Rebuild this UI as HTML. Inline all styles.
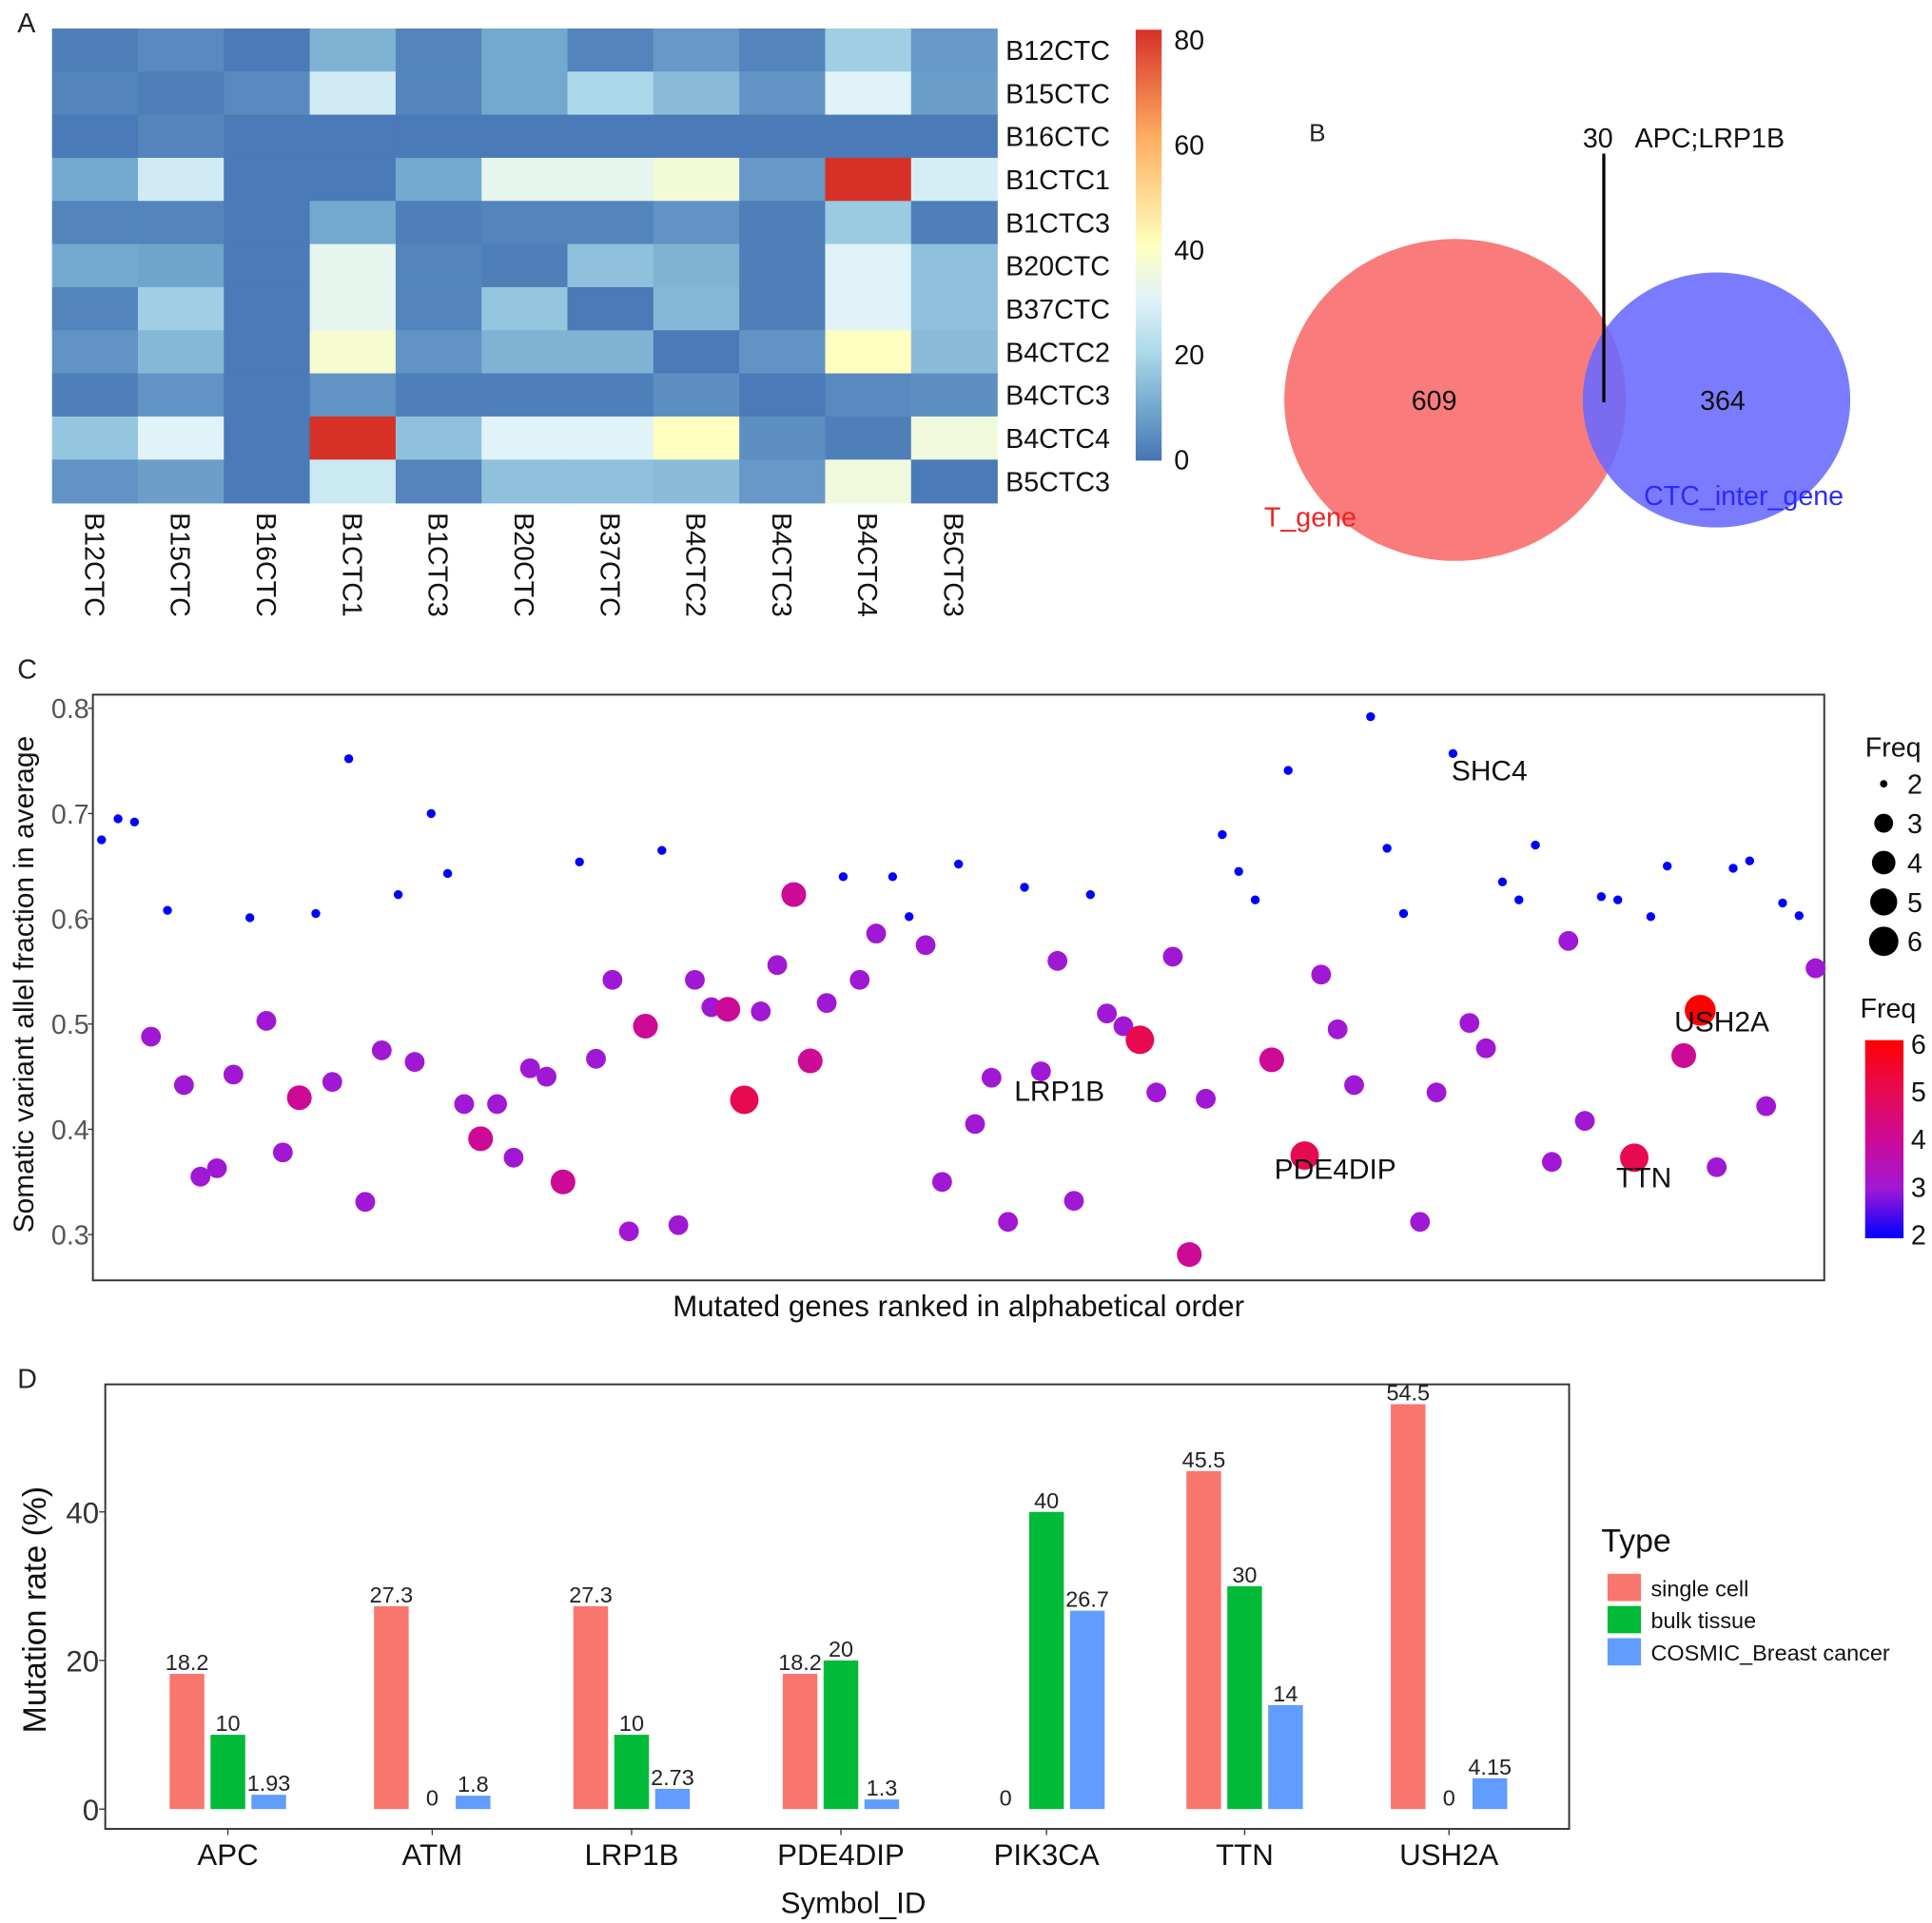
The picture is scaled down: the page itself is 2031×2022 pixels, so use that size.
<!DOCTYPE html>
<html><head><meta charset="utf-8">
<style>
html,body{margin:0;padding:0;background:#fff;}
svg{display:block;font-family:"Liberation Sans",sans-serif;}
</style></head>
<body>
<svg id="fig" width="2031" height="2022" viewBox="0 0 1560 1553" preserveAspectRatio="none" xmlns="http://www.w3.org/2000/svg">
<rect x="0" y="0" width="1560" height="1553" fill="#fff"/>
<g id="pA"></g>
<g id="pB"></g>
<g id="pC"></g>
<g id="pD"></g>
</svg>
<script>
const NS="http://www.w3.org/2000/svg";
// ---------- Data ----------
const hmLabels=["B12CTC","B15CTC","B16CTC","B1CTC1","B1CTC3","B20CTC","B37CTC","B4CTC2","B4CTC3","B4CTC4","B5CTC3"];
const hmRow0=[2,4,1,12,3,10,3,7,3,18,7];
const hmRow1=[3,2,4,27,3,10,20,14,6,30,8];
const hmRow2=[1,3,1,1,1,1,1,1,1,1,1];
const hmRow3=[10,27,1,1,10,32,32,36,7,80,28];
const hmRow4=[3,3,1,10,2,3,3,6,2,17,2];
const hmRow5=[10,9,1,32,3,2,15,12,2,30,15];
const hmRow6=[3,18,1,32,3,16,1,13,2,30,15];
const hmRow7=[6,13,1,37,6,12,12,1,6,40,14];
const hmRow8=[2,6,1,6,2,2,2,5,1,4,5];
const hmRow9=[16,30,1,80,15,30,30,40,5,2,35];
const hmRow10=[6,8,1,26,3,15,15,14,7,35,1];
const hmTicks=[0,20,40,60,80];

const vennLeft=609, vennRight=364, vennBoth=30;

const vaf=[0.675,0.695,0.692,0.488,0.608,0.442,0.355,0.363,0.452,0.601,0.503,0.378,0.430,0.605,0.445,0.752,0.331,0.475,0.623,0.464,0.700,0.643,0.424,0.391,0.424,0.373,0.458,0.450,0.350,0.654,0.467,0.542,0.303,0.498,0.665,0.309,0.542,0.516,0.514,0.428,0.512,0.556,0.623,0.465,0.520,0.640,0.542,0.586,0.640,0.602,0.575,0.350,0.652,0.405,0.449,0.312,0.630,0.455,0.560,0.332,0.623,0.510,0.498,0.485,0.435,0.564,0.281,0.429,0.680,0.645,0.618,0.466,0.741,0.375,0.547,0.495,0.442,0.792,0.667,0.605,0.312,0.435,0.757,0.501,0.477,0.635,0.618,0.670,0.369,0.579,0.408,0.621,0.618,0.373,0.602,0.650,0.470,0.513,0.364,0.648,0.655,0.422,0.615,0.603,0.553];
const freq=[2,2,2,3,2,3,3,3,3,2,3,3,4,2,3,2,3,3,2,3,2,2,3,4,3,3,3,3,4,2,3,3,3,4,2,3,3,3,4,5,3,3,4,4,3,2,3,3,2,2,3,3,2,3,3,3,2,3,3,3,2,3,3,5,3,3,4,3,2,2,2,4,2,5,3,3,3,2,2,2,3,3,2,3,3,2,2,2,3,3,3,2,2,5,2,2,4,6,3,2,2,3,2,2,3];
const scLabelGenes=["SHC4","USH2A","LRP1B","PDE4DIP","TTN"];
const scYTicks=[0.3,0.4,0.5,0.6,0.7,0.8];
const freqLevels=[2,3,4,5,6];

const barCats=["APC","ATM","LRP1B","PDE4DIP","PIK3CA","TTN","USH2A"];
const singleCell=[18.2,27.3,27.3,18.2,0,45.5,54.5];
const bulkTissue=[10,0,10,20,40,30,0];
const cosmic=[1.93,1.8,2.73,1.3,26.7,14,4.15];
const barTypes=["single cell","bulk tissue","COSMIC_Breast cancer"];
const barYTicks=[0,20,40];

// ---------- helpers ----------
function mk(parent,tag,attrs,text){const e=document.createElementNS(NS,tag);for(const k in attrs)e.setAttribute(k,attrs[k]);if(text!==undefined)e.textContent=text;parent.appendChild(e);return e;}
function lerpC(a,b,t){return [a[0]+(b[0]-a[0])*t,a[1]+(b[1]-a[1])*t,a[2]+(b[2]-a[2])*t];}
function rgb(c){return "rgb("+c.map(v=>Math.round(v)).join(",")+")";}
const hmStops=[[0,[69,117,180]],[10,[116,169,207]],[20,[171,217,233]],[30,[224,243,248]],[40,[255,255,191]],[60,[253,174,97]],[80,[215,48,39]]];
function hmColor(v){for(let i=0;i<hmStops.length-1;i++){const a=hmStops[i],b=hmStops[i+1];if(v<=b[0])return rgb(lerpC(a[1],b[1],Math.max(0,(v-a[0])/(b[0]-a[0]))));}return rgb(hmStops[hmStops.length-1][1]);}

// ---------- Panel A ----------
(function(){
const g=document.getElementById("pA");
const rows=[hmRow0,hmRow1,hmRow2,hmRow3,hmRow4,hmRow5,hmRow6,hmRow7,hmRow8,hmRow9,hmRow10];
const x0=42,y0=23,cw=(805-42)/11,ch=(406-23)/11;
let t=mk(g,"text",{x:14,y:26,"font-size":22,fill:"#222"},"A");


rows.forEach((row,r)=>row.forEach((v,c)=>{
 const e=mk(g,"rect",{x:x0+c*cw,y:y0+r*ch,width:cw+0.6,height:ch+0.6,fill:hmColor(v)});
 
 
}));
hmLabels.forEach((l,i)=>{
 const e=mk(g,"text",{x:812,y:y0+i*ch+ch/2+8,"font-size":22,fill:"#111"},l);
 
 
 const cx=x0+i*cw+cw/2;
 const e2=mk(g,"text",{x:0,y:0,"font-size":22,fill:"#111",transform:"translate("+(cx-8)+",414) rotate(90)"},l);
 
 
});
const defs=mk(g,"defs",{});
const lg=mk(defs,"linearGradient",{id:"hmg",x1:0,y1:1,x2:0,y2:0});
hmStops.forEach(s=>mk(lg,"stop",{offset:(s[0]/80),"stop-color":rgb(s[1])}));
const cbTop=24,cbBot=372;
const cb=mk(g,"rect",{x:917,y:cbTop,width:21,height:cbBot-cbTop,fill:"url(#hmg)"});


hmTicks.forEach(v=>{
 const y=371-(v/80)*(371-32);
 const e=mk(g,"text",{x:948,y:y+8,"font-size":22,fill:"#111"},String(v));
 
 
});
})();

// ---------- Panel B ----------
(function(){
const g=document.getElementById("pB");
let e=mk(g,"text",{x:1057,y:114,"font-size":20,fill:"#222"},"B");


e=mk(g,"ellipse",{cx:1175,cy:323,rx:138,ry:130,fill:"#f97b7b"});


e=mk(g,"ellipse",{cx:1386,cy:323,rx:108,ry:103,fill:"rgba(105,105,255,0.88)"});


e=mk(g,"line",{x1:1295,y1:124,x2:1295,y2:325,stroke:"#000","stroke-width":2.5});


e=mk(g,"text",{x:1278,y:119,"font-size":22,fill:"#111"},String(vennBoth));


e=mk(g,"text",{x:1320,y:119,"font-size":22,fill:"#111"},"APC;LRP1B");


e=mk(g,"text",{x:1158,y:331,"font-size":22,fill:"#111","text-anchor":"middle"},String(vennLeft));


e=mk(g,"text",{x:1391,y:331,"font-size":22,fill:"#111","text-anchor":"middle"},String(vennRight));


e=mk(g,"text",{x:1058,y:425,"font-size":22,fill:"#ee2222","text-anchor":"middle"},"T_gene");


e=mk(g,"text",{x:1408,y:408,"font-size":22,fill:"#2a2aff","text-anchor":"middle"},"CTC_inter_gene");


})();

// ---------- Panel C ----------
const fStops=[[0,0,255],[160,24,212],[205,10,150],[232,10,80],[255,0,0]];
function fColor(f){const i=Math.max(0,Math.min(4,f-2));const lo=Math.floor(i),hi=Math.min(4,lo+1);return rgb(lerpC(fStops[lo],fStops[hi],i-lo));}
function fRad(f){return [0,0,3.6,8,10,11.5,12.5][f];}
(function(){
const g=document.getElementById("pC");
const L=75,R=1473,T=561,B=1034;
const xS=i=>82+i*(1466-82)/104;
const yS=v=>997-(v-0.3)*850;
let e=mk(g,"text",{x:14,y:548,"font-size":22,fill:"#222"},"C");


e=mk(g,"rect",{x:L,y:T,width:R-L,height:B-T,fill:"none",stroke:"#333","stroke-width":1.5});


scYTicks.forEach(v=>{
 const y=yS(v);
 const t=mk(g,"text",{x:72,y:y+8,"font-size":22,fill:"#555","text-anchor":"end"},v.toFixed(1));
 
 
 const l=mk(g,"line",{x1:71,x2:L,y1:y,y2:y,stroke:"#333","stroke-width":1});
 
 
});
vaf.forEach((v,i)=>{
 const c=mk(g,"circle",{cx:xS(i),cy:yS(v),r:fRad(freq[i]),fill:fColor(freq[i])});
 
 
});
const labs=[["SHC4",1172,630],["USH2A",1352,833],["LRP1B",819,889],["PDE4DIP",1029,952],["TTN",1305,959]];
labs.forEach(a=>{
 const t=mk(g,"text",{x:a[1],y:a[2],"font-size":23,fill:"#111"},a[0]);
 
 
});
e=mk(g,"text",{x:0,y:0,"font-size":23,fill:"#111","text-anchor":"middle",transform:"translate(27,795) rotate(-90)"},"Somatic variant allel fraction in average");


e=mk(g,"text",{x:774,y:1063,"font-size":24,fill:"#111","text-anchor":"middle"},"Mutated genes ranked in alphabetical order");


e=mk(g,"text",{x:1506,y:611,"font-size":22,fill:"#111"},"Freq");


freqLevels.forEach((f,i)=>{
 const y=633+i*31.8;
 const c=mk(g,"circle",{cx:1521,cy:y,r:fRad(f)==3.6?3:fRad(f)*0.95,fill:"#000"});
 
 
 const t=mk(g,"text",{x:1540,y:y+8,"font-size":22,fill:"#111"},String(f));
 
 
});
e=mk(g,"text",{x:1502,y:822,"font-size":22,fill:"#111"},"Freq");


const defs=mk(g,"defs",{});
const lg=mk(defs,"linearGradient",{id:"fg",x1:0,y1:1,x2:0,y2:0});
fStops.forEach((s,i)=>mk(lg,"stop",{offset:i/4,"stop-color":rgb(s)}));
e=mk(g,"rect",{x:1506,y:840,width:31,height:160,fill:"url(#fg)"});


freqLevels.forEach(f=>{
 const y=997-(f-2)*(997-843)/4;
 const t=mk(g,"text",{x:1543,y:y+8,"font-size":22,fill:"#111"},String(f));
 
 
});
})();

// ---------- Panel D ----------
(function(){
const g=document.getElementById("pD");
const L=85,R=1267,T=1118,B=1477;
const yS=v=>1461-v*6;
const centers=[184,349,510,679,845,1005,1170];
const cols=["#F8766D","#00BA38","#619CFF"];
const series=[singleCell,bulkTissue,cosmic];
let e=mk(g,"text",{x:14,y:1121,"font-size":22,fill:"#222"},"D");


e=mk(g,"rect",{x:L,y:T,width:R-L,height:B-T,fill:"none",stroke:"#333","stroke-width":1.5});


barYTicks.forEach(v=>{
 const y=yS(v);
 const t=mk(g,"text",{x:80,y:y+9,"font-size":24,fill:"#333","text-anchor":"end"},String(v));
 
 
 const l=mk(g,"line",{x1:80,x2:L,y1:y,y2:y,stroke:"#333","stroke-width":1});
 
 
});
barCats.forEach((c,i)=>{
 const cx=centers[i];
 series.forEach((s,k)=>{
  const bx=cx+(k-1)*33-14;
  const v=s[i];
  const r=mk(g,"rect",{x:bx,y:yS(v),width:28,height:v*6,fill:cols[k]});
  
  
  const t=mk(g,"text",{x:bx+14,y:yS(v)-3,"font-size":18,fill:"#222","text-anchor":"middle"},String(v));
  
  
 });
 const l=mk(g,"line",{x1:cx,x2:cx,y1:B,y2:B+5,stroke:"#333","stroke-width":1});
 
 
 const t=mk(g,"text",{x:cx,y:1506,"font-size":24,fill:"#111","text-anchor":"middle"},c);
 
 
});
e=mk(g,"text",{x:689,y:1545,"font-size":24,fill:"#111","text-anchor":"middle"},"Symbol_ID");


e=mk(g,"text",{x:0,y:0,"font-size":26,fill:"#111","text-anchor":"middle",transform:"translate(37,1300) rotate(-90)"},"Mutation rate (%)");


e=mk(g,"text",{x:1293,y:1253,"font-size":26,fill:"#111"},"Type");


barTypes.forEach((n,k)=>{
 const y=1271+k*26;
 const r=mk(g,"rect",{x:1298,y:y,width:27,height:22,fill:cols[k]});
 
 
 const t=mk(g,"text",{x:1333,y:y+18,"font-size":18,fill:"#111"},n);
 
 
});
})();
</script>
</body></html>
